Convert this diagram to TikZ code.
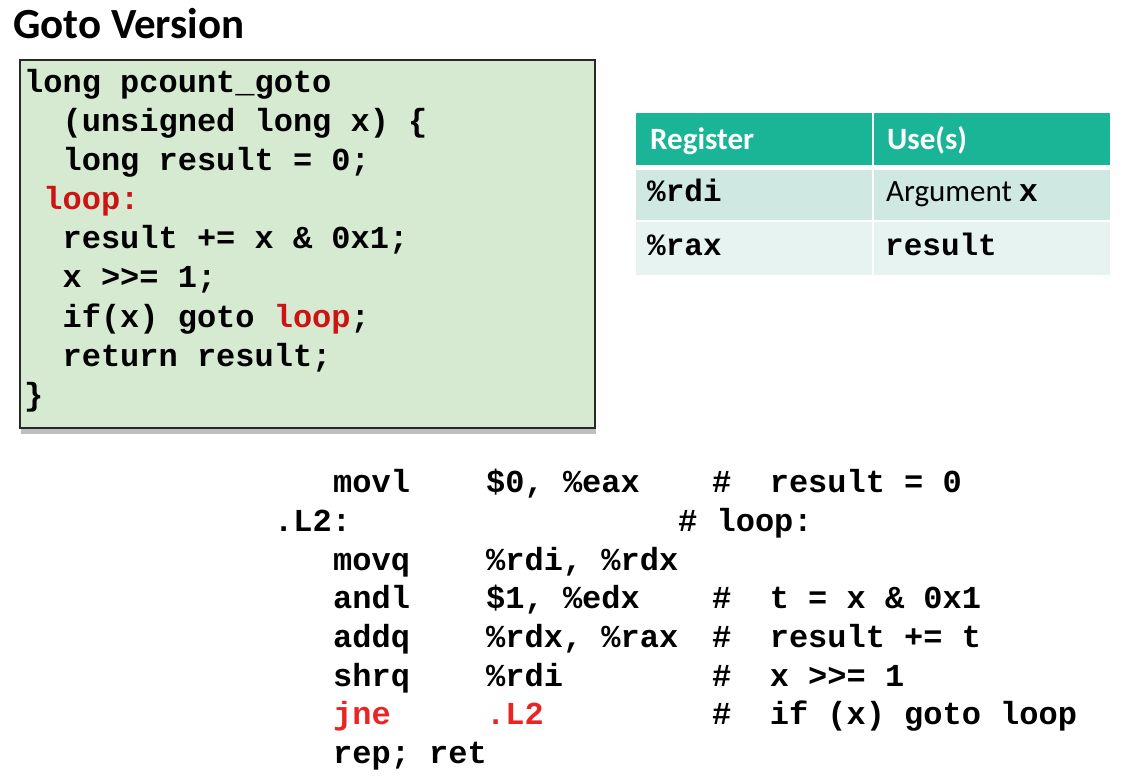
\documentclass[tikz,border=0pt]{standalone}
\usepackage{fontspec}
\setmainfont{Carlito}
\setmonofont{Liberation Mono}
\definecolor{boxgreen}{RGB}{214,233,209}
\definecolor{boxedge}{RGB}{40,40,40}
\definecolor{shadowgray}{RGB}{190,190,190}
\definecolor{hdrteal}{RGB}{26,180,150}
\definecolor{rowone}{RGB}{207,232,226}
\definecolor{rowtwo}{RGB}{231,243,240}
\definecolor{codered}{RGB}{205,20,20}
\definecolor{asmred}{RGB}{235,35,35}
\begin{document}
\begin{tikzpicture}[x=1pt,y=-1pt,
  code/.style={anchor=base west, inner sep=0pt, font=\fontsize{32}{39}\selectfont\ttfamily\bfseries},
  tcode/.style={anchor=base west, inner sep=0pt, font=\fontsize{31}{37}\selectfont\ttfamily\bfseries},
  hdrtext/.style={anchor=base west, inner sep=0pt, text=white, font=\fontsize{31}{37}\selectfont\bfseries},
  celltext/.style={anchor=base west, inner sep=0pt, font=\fontsize{31}{37}\selectfont},
  cell/.style={anchor=north west, inner sep=0pt, minimum width=236pt},
  red1/.style={text=codered},
  red2/.style={text=asmred}]
\useasboundingbox (0,0) rectangle (1142,783);

% title
\node[anchor=base west, inner sep=0pt, font=\fontsize{43}{50}\selectfont\bfseries] (title) at (13,39) {Goto Version};

% code box with shadow
\fill[shadowgray] (21,428) rectangle (596,434);
\node[draw=boxedge, fill=boxgreen, line width=1.8pt, anchor=north west, inner sep=0pt,
      minimum width=575pt, minimum height=368pt] (codebox) at (19,59) {};

\node[code] (c1) at (24,93) {long pcount\_goto};
\node[code] (c2) at (62.4,132) {(unsigned long x) \{};
\node[code] (c3) at (62.4,171) {long result = 0;};
\node[code, red1] (c4) at (43.2,210) {loop:};
\node[code] (c5) at (62.4,249) {result += x \& 0x1;};
\node[code] (c6) at (62.4,288) {x >{}>= 1;};
\node[code] (c7) at (62.4,327) {if(x) goto \textcolor{codered}{loop};};
\node[code] (c8) at (62.4,366) {return result;};
\node[code] (c9) at (24,405) {\}};

% register table
\node[cell, fill=hdrteal, minimum height=52pt] (h1) at (636,113) {};
\node[cell, fill=hdrteal, minimum height=52pt] (h2) at (874,113) {};
\node[cell, fill=rowone, minimum height=50pt] (r1a) at (636,170) {};
\node[cell, fill=rowone, minimum height=50pt] (r1b) at (874,170) {};
\node[cell, fill=rowtwo, minimum height=53pt] (r2a) at (636,222) {};
\node[cell, fill=rowtwo, minimum height=53pt] (r2b) at (874,222) {};

\node[hdrtext] (h1t) at (650,150) {Register};
\node[hdrtext] (h2t) at (887,150) {Use(s)};
\node[tcode] (r1at) at (647,202) {\%rdi};
\node[celltext] (r1bt) at (886,202) {Argument {\ttfamily\bfseries\fontsize{32}{38}\selectfont x}};
\node[tcode] (r2at) at (647,256) {\%rax};
\node[tcode] (r2bt) at (885,256) {result};

% assembly
\node[code] (a1m) at (333,492) {movl};
\node[code] (a1o) at (486,492) {\$0, \%eax};
\node[code] (a1c) at (712,492) {\#~~result = 0};

\node[code] (a2m) at (274,531) {.L2:};
\node[code] (a2c) at (678,531) {\# loop:};

\node[code] (a3m) at (333,570) {movq};
\node[code] (a3o) at (486,570) {\%rdi, \%rdx};

\node[code] (a4m) at (333,608) {andl};
\node[code] (a4o) at (486,608) {\$1, \%edx};
\node[code] (a4c) at (712,608) {\#~~t = x \& 0x1};

\node[code] (a5m) at (333,647) {addq};
\node[code] (a5o) at (486,647) {\%rdx, \%rax};
\node[code] (a5c) at (712,647) {\#~~result += t};

\node[code] (a6m) at (333,686) {shrq};
\node[code] (a6o) at (486,686) {\%rdi};
\node[code] (a6c) at (712,686) {\#~~x >{}>= 1};

\node[code, red2] (a7m) at (333,724) {jne};
\node[code, red2] (a7o) at (486,724) {.L2};
\node[code] (a7c) at (712,724) {\#~~if (x) goto loop};

\node[code] (a8m) at (333,763) {rep; ret};
\end{tikzpicture}
\end{document}
